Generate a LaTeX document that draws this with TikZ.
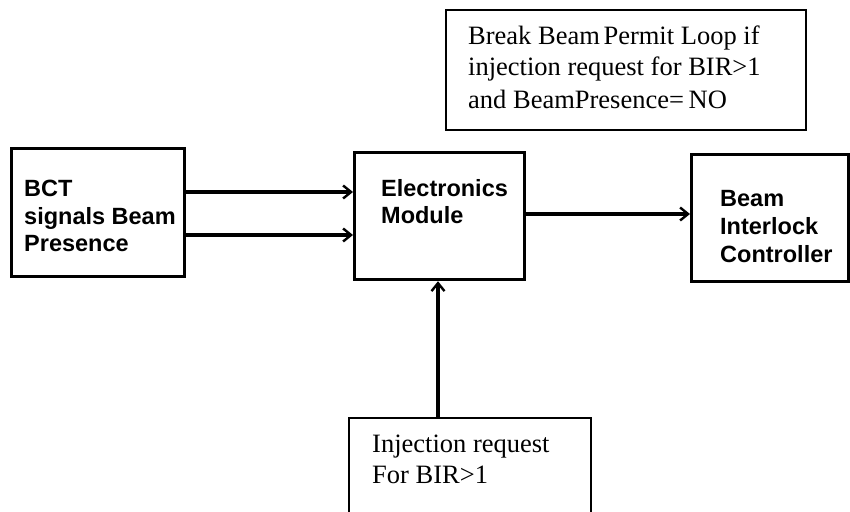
\documentclass[tikz,border=0pt]{standalone}
\usepackage{fontspec}
\setmainfont{Liberation Serif}
\newfontfamily\boxsans{Liberation Sans}
\usetikzlibrary{arrows.meta}
\begin{document}
\begin{tikzpicture}[x=1pt,y=-1pt,
  thickbox/.style={draw=black,line width=3.2pt},
  thinbox/.style={draw=black,line width=1.6pt},
  sanstxt/.style={font=\boxsans\bfseries\fontsize{23.5}{27}\selectfont,anchor=base west,inner sep=0pt},
  seriftxt/.style={font=\fontsize{26.5}{31}\selectfont,anchor=base west,inner sep=0pt},
  flow/.style={line width=3.2pt,-{Straight Barb[length=8pt,width=13pt,line width=2.4pt]}}]
\useasboundingbox (0,0) rectangle (850,511);
\clip (0,0) rectangle (850,511);
% boxes
\node[thickbox,anchor=north west,minimum width=173pt,minimum height=128pt,inner sep=0pt] (bct) at (10,147) {};
\node[thickbox,anchor=north west,minimum width=170pt,minimum height=127pt,inner sep=0pt] (em) at (353,151) {};
\node[thickbox,anchor=north west,minimum width=157pt,minimum height=127pt,inner sep=0pt] (bic) at (690,153) {};
\node[thinbox,anchor=north west,minimum width=360pt,minimum height=120pt,inner sep=0pt] (note) at (445,9) {};
\node[thinbox,anchor=north west,minimum width=242pt,minimum height=130pt,inner sep=0pt] (inj) at (348,417) {};
% texts
\node[sanstxt] (t1) at (24,196) {BCT};
\node[sanstxt] (t2) at (24,224) {signals Beam};
\node[sanstxt] (t3) at (24,251) {Presence};
\node[sanstxt] (t4) at (381,196) {Electronics};
\node[sanstxt] (t5) at (381,223) {Module};
\node[sanstxt] (t6) at (720,206) {Beam};
\node[sanstxt] (t7) at (720,234) {Interlock};
\node[sanstxt] (t8) at (720,262) {Controller};
\node[seriftxt] (n1) at (468,45) {Break Beam\hspace{-3pt} Permit Loop if};
\node[seriftxt] (n2) at (468,75) {injection request for BIR>1};
\node[seriftxt] (n3) at (468,108) {and BeamPresence=\hspace{-2pt} NO};
\node[seriftxt] (i1) at (372,452) {Injection request};
\node[seriftxt] (i2) at (372,483) {For BIR>1};
% connectors
\draw[flow] (bct.east |- 0,192) -- (em.west |- 0,192);
\draw[flow] (bct.east |- 0,235) -- (em.west |- 0,235);
\draw[flow] (em.east |- 0,214) -- (bic.west |- 0,214);
\draw[flow] (438,0 |- inj.north) -- (438,0 |- em.south);
\end{tikzpicture}
\end{document}
